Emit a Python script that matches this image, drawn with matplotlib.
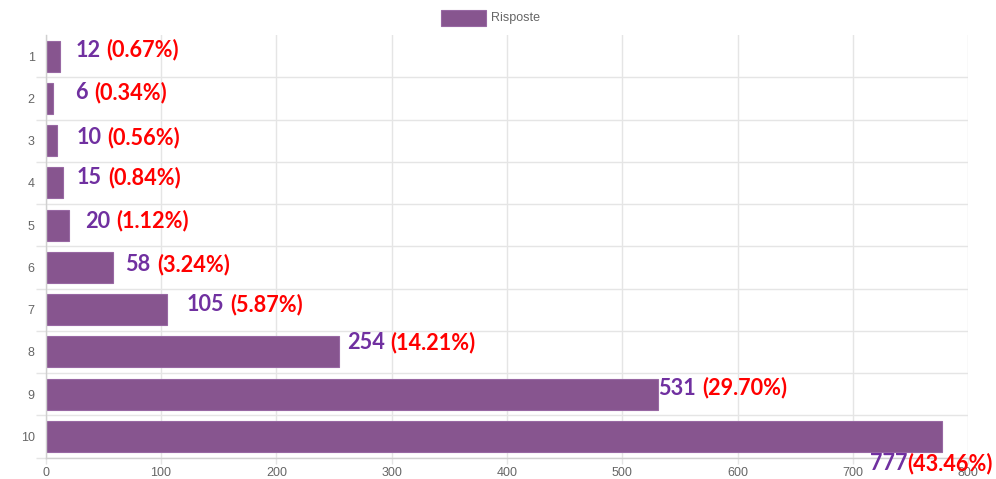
import matplotlib.pyplot as plt
from matplotlib.patches import Rectangle

categories = ['1', '2', '3', '4', '5', '6', '7', '8', '9', '10']
risposte = [12, 6, 10, 15, 20, 58, 105, 254, 531, 777]
x_ticks = [0, 100, 200, 300, 400, 500, 600, 700, 800]

# spostamento etichette in pixel (a mano, come nell'originale)
label_dx = [16, 23, 19, 14, 16, 13, 20, 8, 0, -72]
label_dy = [6, 6, 3, 5, 4, 3, 5, 9, 6, -27]

bar_color = '#87558f'
purple = '#7030a0'
red = '#ff0000'
grid_color = '#e5e5e5'
tick_color = '#666666'
label_font = 'Lato'
label_size = 15.6

W, H = 996, 479
fig = plt.figure(figsize=(W / 100, H / 100), dpi=100)
ax = fig.add_axes([45.7 / W, (H - 457.5) / H, (968.3 - 45.7) / W, (457.5 - 35) / H])

total = sum(risposte)
ypos = list(range(len(categories)))
ax.barh(ypos, risposte, height=0.73, color=bar_color, edgecolor='#9868a3', linewidth=0.8, zorder=2)

ax.set_xlim(0, 800)
ax.set_ylim(len(categories) - 0.5, -0.5)
ax.set_xticks(x_ticks)
ax.set_xticklabels([str(t) for t in x_ticks])
ax.set_yticks(ypos)
ax.set_yticklabels(categories)
ax.set_yticks([i + 0.5 for i in ypos], minor=True)

ax.grid(axis='x', color=grid_color, linewidth=1, zorder=0)
ax.grid(axis='y', which='minor', color=grid_color, linewidth=1, zorder=0)
ax.tick_params(axis='x', length=4, width=1, color=grid_color, pad=3, labelsize=9, labelcolor=tick_color)
ax.tick_params(axis='y', which='major', length=0, pad=8, labelsize=9, labelcolor=tick_color)
ax.tick_params(axis='y', which='minor', length=7, width=1, color=grid_color)
for lab in ax.get_xticklabels() + ax.get_yticklabels():
    lab.set_family('Liberation Sans')

for s in ['top', 'right']:
    ax.spines[s].set_visible(False)
for s in ['left', 'bottom']:
    ax.spines[s].set_color('#d0d0d0')
    ax.spines[s].set_linewidth(1)

# etichette: valore viola + percentuale rossa
for i, v in enumerate(risposte):
    pct = v / total * 100
    t1 = ax.annotate(str(v), xy=(v, i), xytext=(label_dx[i], label_dy[i]),
                     textcoords='offset pixels', ha='left', va='center',
                     color=purple, fontsize=label_size, fontweight='bold', family=label_font,
                     annotation_clip=False, zorder=5)
    gap = 0 if i == len(risposte) - 1 else 6
    ax.annotate('(%.2f%%)' % pct, xy=(1, 0), xycoords=t1, xytext=(gap, 0),
                textcoords='offset pixels', ha='left', va='bottom',
                color=red, fontsize=label_size, fontweight='bold', family=label_font,
                annotation_clip=False, zorder=5)

# legenda
fig.patches.append(Rectangle((441 / W, 1 - 26 / H), 45 / W, 16 / H, transform=fig.transFigure,
                             facecolor=bar_color, edgecolor='#9868a3', linewidth=0.8))
fig.text(491 / W, 1 - 18 / H, 'Risposte', ha='left', va='center', fontsize=9,
         color=tick_color, family='Liberation Sans')

plt.savefig('out.png', dpi=100)
plt.close()
